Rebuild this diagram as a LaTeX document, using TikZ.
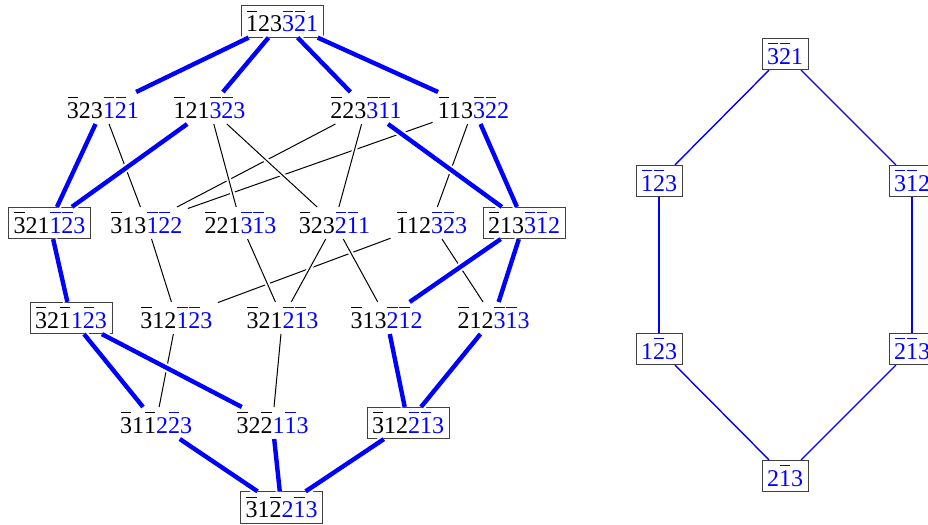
\documentclass[tikz,border=0pt]{standalone}
\usepackage{fontspec}
\setmainfont{Liberation Serif}
\usepackage{xcolor}
\usepackage{tikz}
\newcommand{\ob}[1]{\rlap{\hspace{0.35pt}\raisebox{10pt}{\rule{5.3pt}{0.5pt}}}#1}
\newcommand{\pl}[2]{#1\textcolor{blue}{#2}}
% thick (blue) edges of the left graph
\newcommand{\thickedges}{t/a1,t/a2,t/a3,t/a4,a1/b1,a2/b1,a3/b6,a4/b6,b1/c1,c1/d1,c1/d2,b6/c4,b6/c5,c4/d3,c5/d3,d1/s,d2/s,d3/s}
\begin{document}
\begin{tikzpicture}[x=0.5pt,y=-0.5pt,
  every node/.style={font=\fontsize{12}{14}\selectfont,inner sep=2.5pt},
  boxed/.style={draw=black!75,line width=0.5pt},
  thinedge/.style={black,line width=0.5pt,preaction={draw=white,line width=2.5pt}},
  halo/.style={white,line width=4.2pt},
  thickedge/.style={blue,line width=2.2pt},
  hexedge/.style={blue,line width=0.7pt}]
\useasboundingbox (0,0) rectangle (928,525);
% left graph: top
\node[boxed] (t) at (282,21.5) {\pl{\ob{1}23}{\ob{3}\ob{2}1}};
% second row
\node (a1) at (103,108) {\pl{\ob{3}23}{\ob{1}\ob{2}1}};
\node (a2) at (209.5,108) {\pl{\ob{1}21}{\ob{3}\ob{2}3}};
\node (a3) at (366,108) {\pl{\ob{2}23}{\ob{3}\ob{1}1}};
\node (a4) at (473.5,108) {\pl{\ob{1}13}{\ob{3}\ob{2}2}};
% third row
\node[boxed] (b1) at (49.5,223) {\pl{\ob{3}21}{\ob{1}\ob{2}3}};
\node (b2) at (146.5,223) {\pl{\ob{3}13}{\ob{1}\ob{2}2}};
\node (b3) at (240.5,223) {\pl{\ob{2}21}{\ob{3}\ob{1}3}};
\node (b4) at (334.5,223) {\pl{\ob{3}23}{\ob{2}\ob{1}1}};
\node (b5) at (431.5,223) {\pl{\ob{1}12}{\ob{3}\ob{2}3}};
\node[boxed] (b6) at (524,223) {\pl{\ob{2}13}{\ob{3}\ob{1}2}};
% fourth row
\node[boxed] (c1) at (71,318) {\pl{\ob{3}2\ob{1}}{1\ob{2}3}};
\node (c2) at (176.5,318) {\pl{\ob{3}12}{\ob{1}\ob{2}3}};
\node (c3) at (282.5,318) {\pl{\ob{3}21}{\ob{2}\ob{1}3}};
\node (c4) at (386.5,318) {\pl{\ob{3}13}{\ob{2}\ob{1}2}};
\node (c5) at (493.5,318) {\pl{\ob{2}12}{\ob{3}\ob{1}3}};
% fifth row
\node (d1) at (156,423) {\pl{\ob{3}1\ob{1}}{2\ob{2}3}};
\node (d2) at (272.5,423) {\pl{\ob{3}2\ob{2}}{1\ob{1}3}};
\node[boxed] (d3) at (408,423) {\pl{\ob{3}12}{\ob{2}\ob{1}3}};
% bottom
\node[boxed] (s) at (281.5,507.5) {\pl{\ob{3}1\ob{2}}{2\ob{1}3}};
% thin edges, later ones cut the earlier ones
\foreach \u/\v in {a4/b2,a4/b5,a3/b2,a3/b4,a2/b3,a2/b4,a1/b2,b5/c2,b5/c5,b4/c3,b4/c4,b3/c3,b2/c2,c3/d2,c2/d1}
  \draw[thinedge] (\u) -- (\v);
% thick edges: white halo first, then the blue line
\foreach \u/\v in \thickedges
  \draw[halo] (\u) -- (\v);
\foreach \u/\v in \thickedges
  \draw[thickedge] (\u) -- (\v);
% right graph (hexagon)
\node[boxed] (h1) at (785,54) {\textcolor{blue}{\ob{3}\ob{2}1}};
\node[boxed] (h2) at (659,181) {\textcolor{blue}{\ob{1}\ob{2}3}};
\node[boxed] (h3) at (912,181) {\textcolor{blue}{\ob{3}\ob{1}2}};
\node[boxed] (h4) at (659,349) {\textcolor{blue}{1\ob{2}3}};
\node[boxed] (h5) at (912,349) {\textcolor{blue}{\ob{2}\ob{1}3}};
\node[boxed] (h6) at (785,476) {\textcolor{blue}{2\ob{1}3}};
\foreach \u/\v in {h1/h2,h1/h3,h2/h4,h3/h5,h4/h6,h5/h6}
  \draw[hexedge] (\u) -- (\v);
\end{tikzpicture}
\end{document}
